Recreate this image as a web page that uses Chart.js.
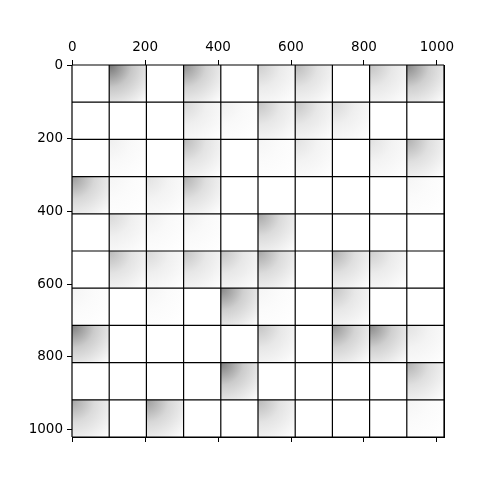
<!DOCTYPE html>
<html>
<head>
<meta charset="utf-8">
<script src="https://cdn.jsdelivr.net/npm/chart.js@4/dist/chart.umd.min.js"></script>
<style>
  html, body { margin: 0; padding: 0; background: #fff; }
</style>
</head>
<body>
<canvas id="grid" width="480" height="480"></canvas>
<script>
(function () {
    // image is 10 x 10 cells, 102 px each
    const cellSize = 102;
    const tickValues = [0, 200, 400, 600, 800, 1000];

    // darkness of each cell (0 = white), one array per row, top to bottom
    const row0 = [0, 0.7, 0, 0.55, 0, 0.25, 0.35, 0, 0.3, 0.6];
    const row1 = [0, 0, 0, 0.2, 0.08, 0.3, 0.3, 0.2, 0, 0];
    const row2 = [0, 0.08, 0, 0.35, 0, 0.05, 0.15, 0, 0.15, 0.4];
    const row3 = [0.5, 0.05, 0.15, 0.4, 0, 0, 0, 0, 0, 0.05];
    const row4 = [0, 0.2, 0.08, 0.08, 0, 0.45, 0, 0, 0, 0];
    const row5 = [0, 0.35, 0.2, 0.3, 0.3, 0.45, 0, 0.4, 0.25, 0];
    const row6 = [0.05, 0, 0.05, 0, 0.6, 0.05, 0, 0.3, 0, 0];
    const row7 = [0.65, 0, 0, 0, 0, 0.3, 0, 0.55, 0.6, 0.15];
    const row8 = [0, 0, 0, 0, 0.65, 0, 0, 0, 0, 0.4];
    const row9 = [0.45, 0, 0.5, 0, 0, 0.35, 0, 0, 0, 0.05];
    const rows = [row0, row1, row2, row3, row4, row5, row6, row7, row8, row9];

    const lo = -0.5;
    const hi = rows.length * cellSize - 0.5;

    function gray(v) {
        const c = Math.round(255 - 200 * v);
        return `rgb(${c},${c},${c})`;
    }

    const cellPlugin = {
        id: 'cells',
        beforeDatasetsDraw(chart) {
            const ctx = chart.ctx;
            const x = chart.scales.x, y = chart.scales.y;
            ctx.save();
            rows.forEach((row, r) => {
                row.forEach((v, c) => {
                    const x0 = x.getPixelForValue(c * cellSize - 0.5);
                    const x1 = x.getPixelForValue((c + 1) * cellSize - 0.5);
                    const y0 = y.getPixelForValue(r * cellSize - 0.5);
                    const y1 = y.getPixelForValue((r + 1) * cellSize - 0.5);
                    ctx.fillStyle = '#fff';
                    ctx.fillRect(x0, y0, x1 - x0, y1 - y0);
                    if (v > 0) {
                        const g = ctx.createRadialGradient(x0, y0, 0, x0, y0, (x1 - x0) * 1.35);
                        g.addColorStop(0, gray(v));
                        g.addColorStop(0.45, gray(v * 0.4));
                        g.addColorStop(1, gray(v * 0.03));
                        ctx.fillStyle = g;
                        ctx.fillRect(x0, y0, x1 - x0, y1 - y0);
                    }
                });
            });
            // black separator lines between cells
            ctx.strokeStyle = '#000';
            ctx.lineWidth = 1.2;
            ctx.beginPath();
            for (let k = 0; k <= rows.length; k++) {
                const px = x.getPixelForValue(k * cellSize - 0.5);
                const py = y.getPixelForValue(k * cellSize - 0.5);
                ctx.moveTo(px, chart.chartArea.top);
                ctx.lineTo(px, chart.chartArea.bottom);
                ctx.moveTo(chart.chartArea.left, py);
                ctx.lineTo(chart.chartArea.right, py);
            }
            ctx.stroke();
            ctx.restore();
        }
    };

    const font = { family: 'DejaVu Sans', size: 13.5 };
    const setTicks = (s) => { s.ticks = tickValues.map(v => ({ value: v })); };
    const axisBase = {
        type: 'linear',
        min: lo,
        max: hi,
        afterBuildTicks: setTicks,
        grid: { drawOnChartArea: false, color: '#000', tickColor: '#000', tickLength: 5, lineWidth: 1 },
        border: { display: true, color: '#000', width: 1 },
        ticks: { color: '#000', font: font, padding: 4, maxRotation: 0, autoSkip: false,
                 callback: (v) => String(v) }
    };

    const centres = [];
    rows.forEach((row, r) => row.forEach((v, c) => {
        centres.push({ x: c * cellSize + cellSize / 2, y: r * cellSize + cellSize / 2 });
    }));

    new Chart(document.getElementById('grid').getContext('2d'), {
        type: 'scatter',
        data: { datasets: [{ data: centres, pointRadius: 0 }] },
        options: {
            responsive: false,
            animation: false,
            layout: { padding: { right: 36, top: 0, left: 0, bottom: 0 } },
            plugins: { legend: { display: false }, tooltip: { enabled: false } },
            scales: {
                x: Object.assign({}, axisBase, {
                    position: 'top',
                    afterFit: (s) => { s.height = 65; }
                }),
                x2: Object.assign({}, axisBase, {
                    position: 'bottom',
                    afterFit: (s) => { s.height = 43; },
                    ticks: Object.assign({}, axisBase.ticks, { callback: () => '' })
                }),
                y: Object.assign({}, axisBase, {
                    reverse: true,
                    afterFit: (s) => { s.width = 72; }
                }),
                y2: Object.assign({}, axisBase, {
                    position: 'right',
                    reverse: true,
                    grid: { display: false },
                    ticks: { display: false },
                    afterFit: (s) => { s.width = 0; }
                })
            }
        },
        plugins: [cellPlugin]
    });
})();
</script>
</body>
</html>
